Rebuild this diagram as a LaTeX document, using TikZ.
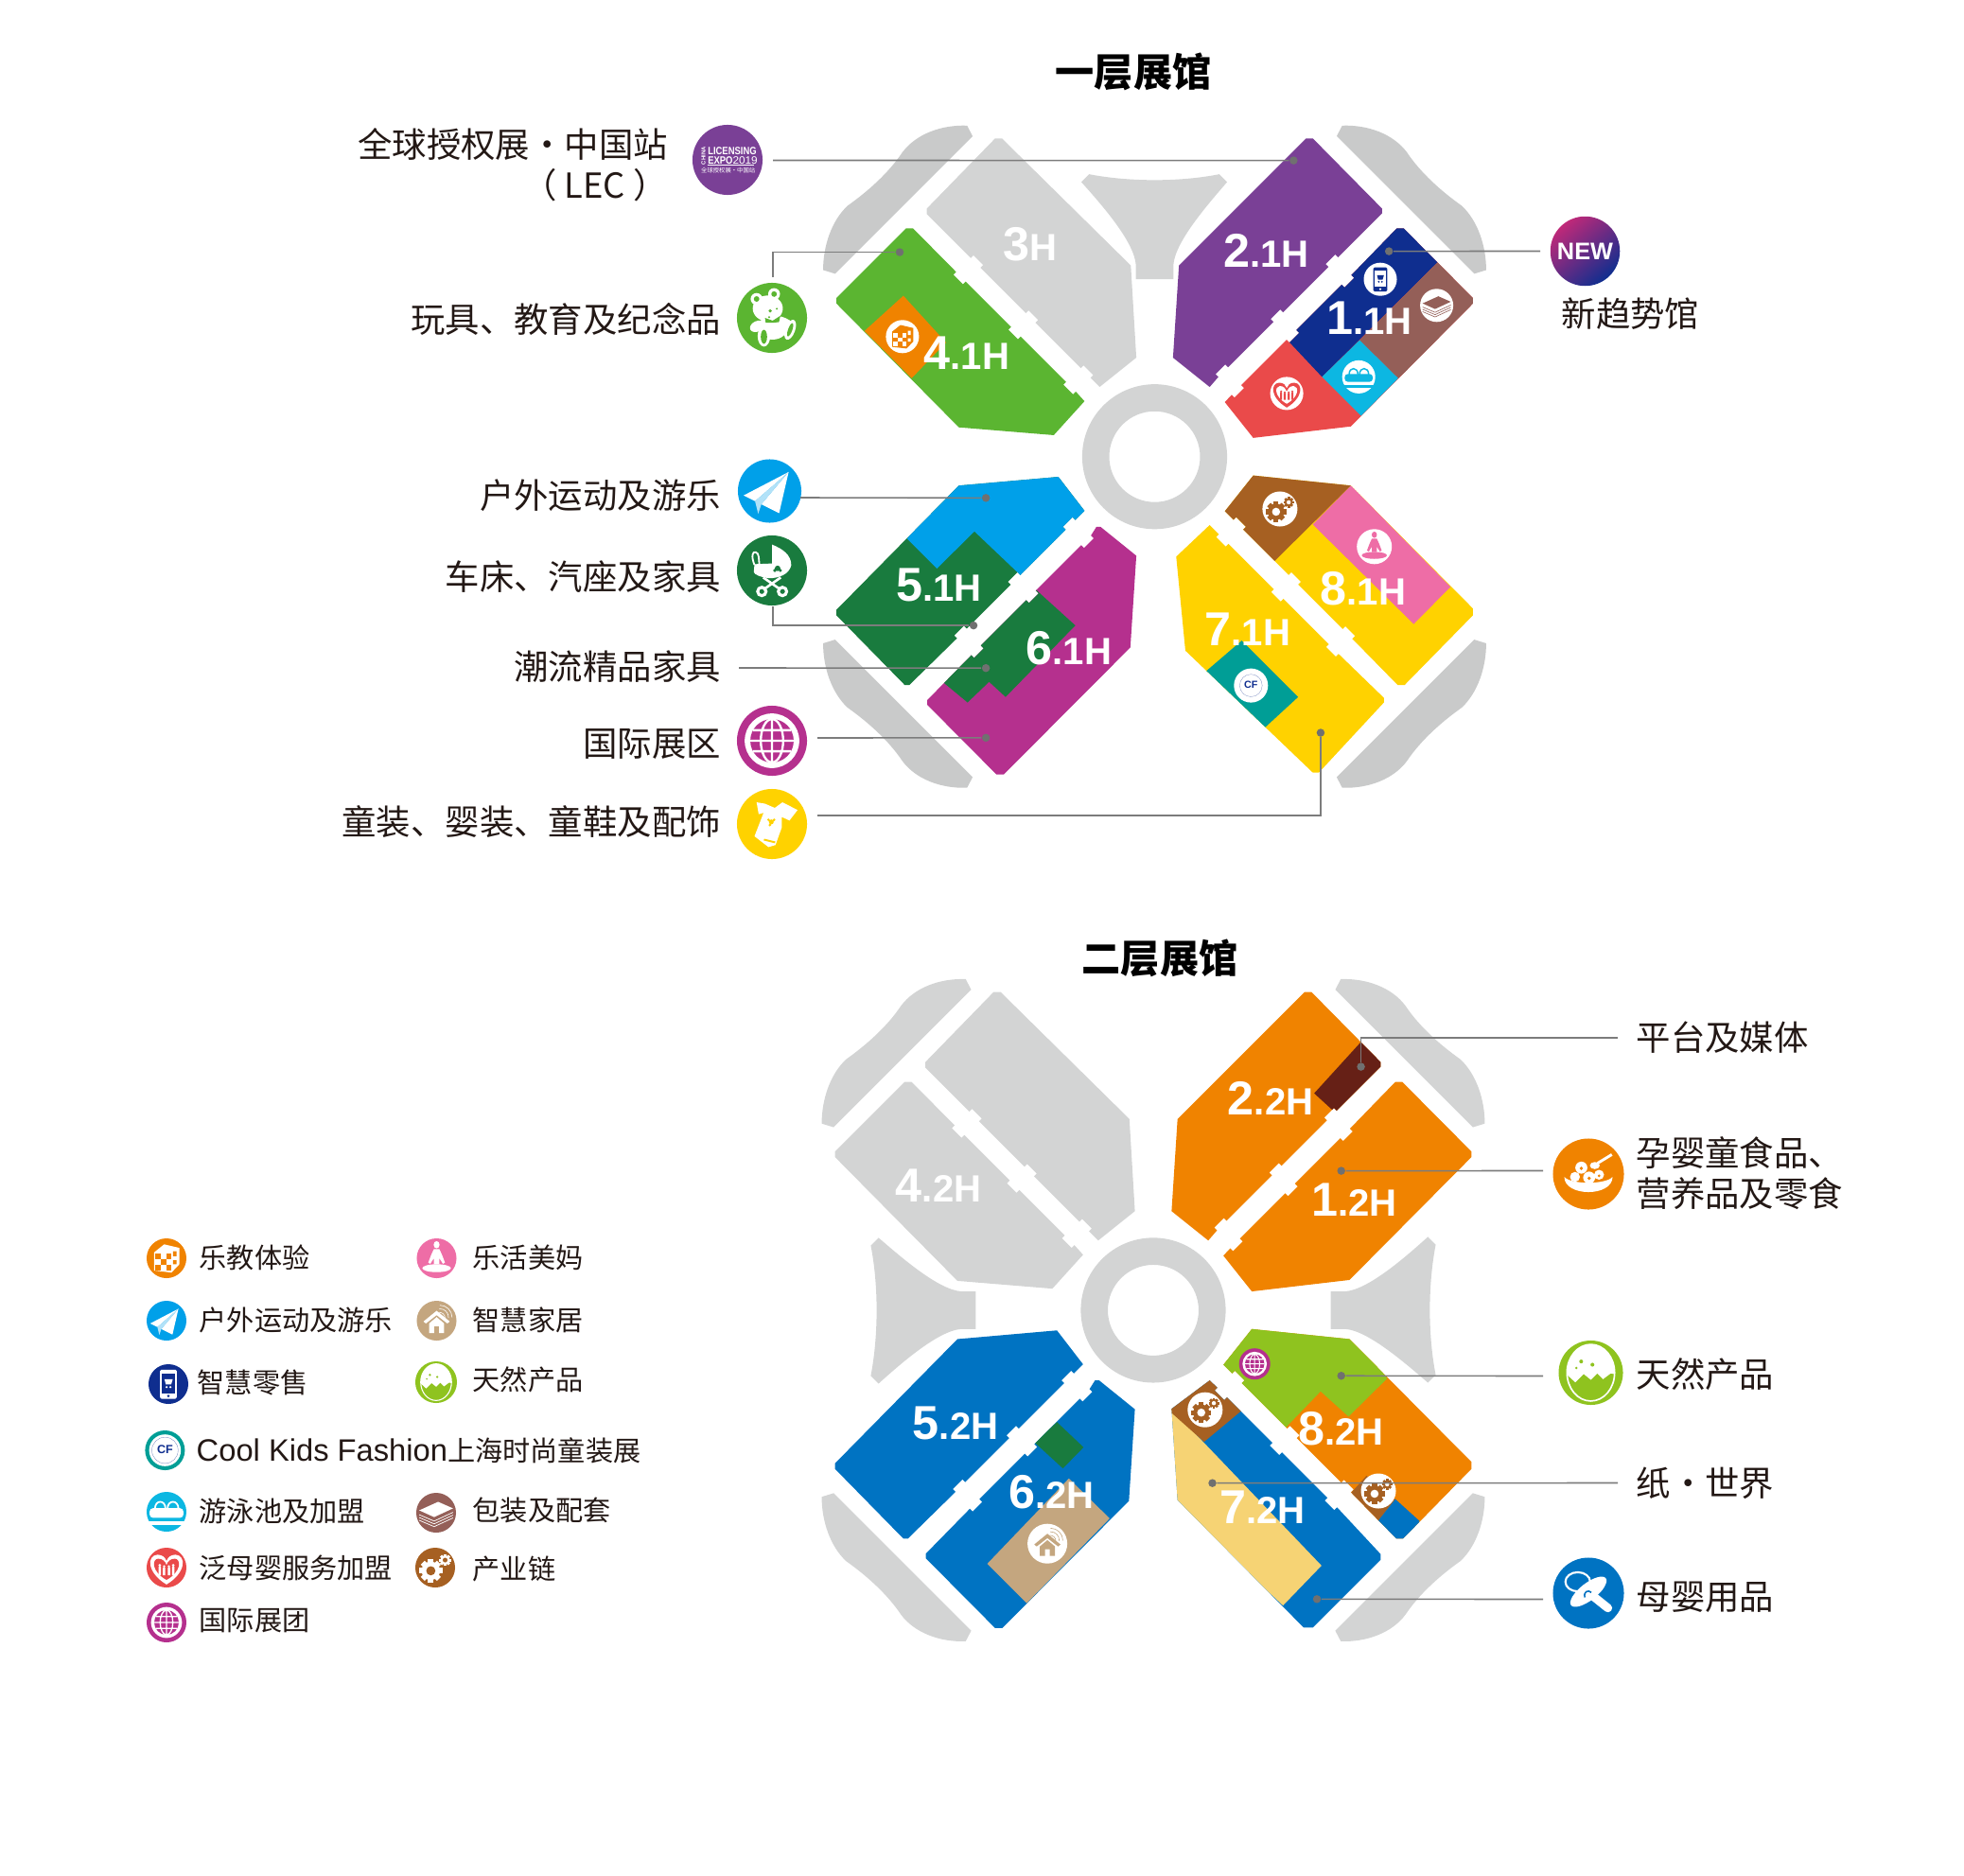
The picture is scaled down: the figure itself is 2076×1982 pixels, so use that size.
\documentclass[tikz,border=0pt]{standalone}
\usepackage{fontspec}
\usetikzlibrary{calc}
\setmainfont{Liberation Sans}
\newfontfamily\cjk{Noto Sans CJK SC}
\definecolor{ink}{HTML}{231815}
\definecolor{leadgray}{HTML}{7C7C7C}
\definecolor{cornergray}{HTML}{C9CACA}
\definecolor{hallgray}{HTML}{D3D4D4}
\definecolor{lecpurple}{HTML}{7A4096}
\definecolor{toygreen}{HTML}{5BB531}
\definecolor{playorange}{HTML}{F08300}
\definecolor{retailnavy}{HTML}{0F2E8F}
\definecolor{packmauve}{HTML}{945F58}
\definecolor{poolcyan}{HTML}{0CB7E2}
\definecolor{heartred}{HTML}{EA4A4A}
\definecolor{sportsky}{HTML}{00A0E9}
\definecolor{strollgreen}{HTML}{197B3E}
\definecolor{globepink}{HTML}{B5308E}
\definecolor{kidsyellow}{HTML}{FFD200}
\definecolor{cfteal}{HTML}{009E96}
\definecolor{chainrust}{HTML}{A66022}
\definecolor{yogapink}{HTML}{EE6DA6}
\definecolor{hometan}{HTML}{C4A67F}
\definecolor{natureolive}{HTML}{8FC31F}
\definecolor{babyblue}{HTML}{0073C2}
\definecolor{paperstraw}{HTML}{F6D374}
\definecolor{mediamaroon}{HTML}{662016}
% edge of a hall with the bite of a bridge in it
\newcommand\nick[4]{--(#1,#2)--++({-(#4)*6},{(#3)*6})--++({(#3)*21},{(#4)*21})--++({(#4)*6},{-(#3)*6})}
\newcommand\hallOne{(1313,271)--(1328,271)--(1479,423)--(1479,435)--(1213,703)--(1000,728)--(938,650)\nick{953}{634}{1}{-1}\nick{1073}{514}{1}{-1}\nick{1193}{394}{1}{-1}--cycle}
\newcommand\hallTwo{(1115,75)--(1130,75)--(1281,228)--(1281,238)\nick{1185}{334}{-1}{1}\nick{1065}{454}{-1}{1}\nick{945}{574}{-1}{1}--(905,617)--(825,553)--(838,352)--cycle}
\newcommand\hallThree{(437,75)--(452,75)--(733,352)--(745,553)--(665,617)\nick{645}{597}{-1}{-1}\nick{525}{477}{-1}{-1}\nick{405}{357}{-1}{-1}--(288,240)--(288,228)--cycle}
\newcommand\hallFour{(243,271)--(258,271)\nick{352}{366}{1}{1}\nick{472}{486}{1}{1}\nick{592}{606}{1}{1}--(632,648)--(565,722)--(358,705)--(91,435)--(91,423)--cycle}
\newcommand\hallFive{(358,832)--(575,813)--(632,887)\nick{612}{907}{-1}{1}\nick{492}{1027}{-1}{1}\nick{375}{1144}{-1}{1}--(250,1267)--(240,1267)--(91,1115)--(91,1103)--cycle}
\newcommand\hallSix{(658,922)--(667,922)--(745,985)--(732,1185)--(456,1462)--(440,1462)--(289,1310)--(289,1300)\nick{385}{1202}{1}{-1}\nick{505}{1082}{1}{-1}\nick{625}{962}{1}{-1}--cycle}
\newcommand\hallSeven{(832,987)--(905,918)\nick{925}{938}{1}{1}\nick{1045}{1058}{1}{1}\nick{1165}{1178}{1}{1}--(1285,1295)--(1285,1305)--(1143,1458)--(1130,1458)--(852,1192)--cycle}
\newcommand\hallSevenUp{(825,984)--(908,922)\nick{925}{938}{1}{1}\nick{1045}{1058}{1}{1}\nick{1165}{1178}{1}{1}--(1281,1301)--(1281,1313)--(1133,1461)--(1113,1461)--(838,1183)--cycle}
\newcommand\hallEight{(1000,810)--(1213,832)--(1479,1100)--(1479,1115)--(1330,1267)--(1315,1267)\nick{1216}{1166}{-1}{-1}\nick{1098}{1048}{-1}{-1}\nick{978}{928}{-1}{-1}--(938,888)--cycle}
\newcommand\cornershape{(-397,-699)--(-409,-722)..controls(-465,-724)and(-520,-704)..(-550,-664)..controls(-580,-619)and(-625,-579)..(-670,-547)..controls(-705,-514)and(-723,-459)..(-723,-407)--(-697,-399)--cycle}
\newcommand\funnelshape{(642,153)..controls(730,170)and(840,170)..(926,153)--(943,170)..controls(900,220)and(830,300)..(826,350)--(826,382)--(744,382)--(744,350)..controls(740,300)and(670,220)..(625,170)--cycle}
% corners and ring of a floor
\newcommand\floorbase[1]{%
\foreach \sx/\sy in {1/1,-1/1,1/-1,-1/-1}{\fill[#1,shift={(785,769)},xscale=\sx,yscale=\sy] \cornershape;}
\fill[hallgray,even odd rule] (785,769) circle (158) (785,769) circle (99);}
\newcommand\hallname[2]{{\fontsize{14.3}{14}\selectfont #1}{\fontsize{11.4}{11}\selectfont #2}}
% a disc with its symbol: name, x, y, radius, disc colour, symbol colour, symbol
\newcommand\badge[7]{%
\node[disc,minimum size=#4*0.02cm,fill=#5] (#1) at (#2,#3) {};
\begin{scope}[shift={(#2,#3)},scale=#4]
\colorlet{symbg}{#5}\colorlet{symfg}{#6}\pgfmathsetmacro\symw{#4*0.02}\pgfmathsetmacro\symfs{#4*0.17}#7
\end{scope}}
\newcommand\symcube{\fill[symfg] (-.62,-.3)--(-.12,-.7)--(.65,-.52)--(.65,.3)--(.25,.72)--(-.62,.62)--cycle;
\foreach \i/\j in {0/0,2/0,1/1,0/2,2/2}{\fill[symbg] ({-.58+\i*.28},{-.24+\j*.28}) rectangle ++(.28,.28);}
\fill[symbg] (.33,-.35) rectangle (.5,-.1) (.33,.1) rectangle (.5,.3);}
\newcommand\symplane{\fill[symfg] (.6,-.6)--(-.82,.14)--(-.46,.32)--cycle (.6,-.6)--(-.26,.42)--(.3,.7)--cycle;
\fill[symfg!70!symbg] (.6,-.6)--(-.46,.32)--(-.36,.72)--(-.26,.42)--cycle;}
\newcommand\symphone{\fill[symfg,rounded corners=.4pt] (-.42,-.72) rectangle (.42,.74);\fill[symbg] (-.33,-.52) rectangle (.33,.46);\fill[symbg] (0,.6) circle (.07);
\fill[symfg] (-.2,-.25)--(.22,-.25)--(.14,.02)--(-.13,.02)--cycle (-.09,.15) circle (.06) (.1,.15) circle (.06);}
\newcommand\symhome{\fill[symfg] (-.66,.04)--(0,-.5)--(.66,.04)--(.54,.14)--(0,-.28)--(-.54,.14)--cycle;
\fill[symfg] (-.38,.14)--(0,-.18)--(.38,.14)--(.38,.62)--(.12,.62)--(.12,.28)--(-.12,.28)--(-.12,.62)--(-.38,.62)--cycle;
\draw[symfg,line width=.4*\symw pt] (.12,-.42)..controls(.3,-.42)and(.42,-.3)..(.42,-.14) (.14,-.6)..controls(.42,-.6)and(.6,-.42)..(.6,-.14) (.16,-.78)..controls(.5,-.78)and(.78,-.5)..(.78,-.16);}
\newcommand\symegg{\draw[symfg,line width=.7*\symw pt] (0,0) ellipse (.74 and .88);
\begin{scope}\clip (0,0) ellipse (.74 and .88);
\fill[symfg] (-1,-1)--(1,-1)--(1,.1)--(.62,.02)--(.38,.2)--(.2,.02)--(0,.22)--(-.22,.04)--(-.48,.3)--(-.72,.08)--(-1,.1)--cycle;\end{scope}
\fill[symbg] (-.3,-.35) circle (.06) (.05,-.25) circle (.06) (-.45,-.15) circle (.04);}
\newcommand\symcf{\fill[white] (0,0) circle (.8);\draw[retailnavy!60,line width=.2*\symw pt] (0,0) circle (.66);
\node[inner sep=0,text=retailnavy,font=\bfseries\fontsize{\symfs}{\symfs}\selectfont] (cfmark) at (0,-.04) {CF};}
\newcommand\sympool{\draw[symfg,line width=1.2*\symw pt] (-.58,-.15)..controls(-.58,-.62)and(-.05,-.62)..(-.05,-.15) (.05,-.15)..controls(.05,-.62)and(.6,-.62)..(.6,-.15);
\fill[symfg,rounded corners=1pt] (-.85,-.18) rectangle (.85,.3);\fill[symfg] (-.95,.48) rectangle (.95,.66);}
\newcommand\symbooks{\fill[symfg] (-.85,-.12)--(.1,-.55)--(.85,-.22)--(-.1,.22)--cycle;
\foreach \d in {.14,.28,.42}{\draw[symfg,line width=.5*\symw pt] (-.85,{-.04+\d})--(-.1,{.28+\d})--(.85,{-.16+\d});}}
\newcommand\symheart{\fill[symfg] (0,.85)..controls(-1,.25)and(-1,-.62)..(-.45,-.65)..controls(-.2,-.65)and(-.05,-.5)..(0,-.32)..controls(.05,-.5)and(.2,-.65)..(.45,-.65)..controls(1,-.62)and(1,.25)..(0,.85)--cycle;
\fill[symbg] (0,.62)..controls(-.75,.2)and(-.75,-.42)..(-.42,-.45)..controls(-.2,-.45)and(-.05,-.3)..(0,-.12)..controls(.05,-.3)and(.2,-.45)..(.42,-.45)..controls(.75,-.42)and(.75,.2)..(0,.62)--cycle;
\foreach \x/\h in {-.34/.14,-.12/.08,.12/.08,.34/.14}{\fill[symfg] (\x,{-.12+.14-\h}) circle (.07) ({\x-.06},{.08-\h}) rectangle ({\x+.06},.38);}}
\newcommand\gearat[3]{\begin{scope}[shift={(#1,#2)},scale=#3]\foreach \a in {0,45,...,315}{\fill[symfg,rotate=\a] (-.24,-1) rectangle (.24,0);}
\fill[symfg] (0,0) circle (.8);\fill[symbg] (0,0) circle (.4);\end{scope}}
\newcommand\symgears{\gearat{-.22}{.16}{.58}\gearat{.5}{-.38}{.3}}
\newcommand\symglobe{\fill[symfg] (0,0) circle (.78);\fill[symbg] (0,0) circle (.62);
\draw[symfg,line width=.9*\symw pt] (-.62,0)--(.62,0) (0,-.62)--(0,.62) (-.54,-.3)--(.54,-.3) (-.54,.3)--(.54,.3) (0,0) ellipse (.32 and .62);}
\newcommand\symyoga{\fill[symfg] (0,-.68) ellipse (.15 and .18);\fill[symfg] (-.14,-.46)--(.14,-.46)--(.28,-.15)--(.42,.22)--(.32,.28)--(.14,.0)--(.14,.3)--(-.14,.3)--(-.14,.0)--(-.32,.28)--(-.42,.22)--(-.28,-.15)--cycle;
\fill[symfg] (0,.5) ellipse (.72 and .2);}
\newcommand\symteddy{\fill[symfg] (-.44,-.54) circle (.17) (.06,-.68) circle (.17) (-.12,-.27) ellipse (.43 and .37) (.02,.28) ellipse (.42 and .34);
\fill[symfg,rotate around={-25:(.35,.12)}] (.35,.12) ellipse (.3 and .12);\fill[symfg,rotate around={25:(-.42,.24)}] (-.42,.24) ellipse (.22 and .15);
\fill[symfg] (-.23,.52) ellipse (.18 and .3);\fill[symfg,rotate around={-20:(.52,.34)}] (.52,.34) ellipse (.14 and .3);
\fill[symbg] (-.44,-.54) circle (.08) (.06,-.68) circle (.08) (-.05,-.2) circle (.05) (-.08,-.02) circle (.03) (.14,-.26) circle (.03);
\fill[symbg] (-.2,.0)--(.02,.08)--(.24,-.06)--(.2,.12)--(.02,.14)--(-.18,.14)--cycle;
\fill[symbg] (-.23,.54) ellipse (.09 and .2);\fill[symbg,rotate around={-20:(.52,.34)}] (.52,.34) ellipse (.06 and .2);}
\newcommand\symstroll{\fill[symfg] (0,-.74)..controls(.3,-.62)and(.55,-.45)..(.55,-.15)..controls(.5,.1)and(.2,.23)..(-.1,.22)..controls(-.3,.2)and(-.5,.12)..(-.52,.05)--(-.5,-.18)--(0,-.2)--cycle;
\draw[symfg,line width=.7*\symw pt] (-.5,-.16)..controls(-.6,-.4)and(-.56,-.56)..(-.46,-.52)..controls(-.36,-.5)and(-.38,-.3)..(-.36,-.16);
\draw[symfg,line width=1*\symw pt] (-.25,.2)--(.25,.55) (.25,.2)--(-.25,.55);
\draw[symfg,line width=1.2*\symw pt] (-.29,.6) circle (.12) (.3,.6) circle (.12);
\fill[symbg] (.16,-.06) circle (.08) (.08,0) circle (.05) (.24,0) circle (.05);}
\newcommand\symonesie{\fill[symfg] (-.2,-.58)--(-.44,-.62)--(-.38,-.28)--(-.24,-.32)--(-.5,.35)--(-.1,.66)--(.1,.6)--(.28,.1)--(.28,-.2)--(.5,-.1)--(.73,-.4)--(.3,-.62)--(.08,-.46)--cycle;
\fill[symbg] (-.22,.42)--(.1,.5)--(.08,.55)--(-.24,.47)--cycle (-.02,-.06) circle (.07) (-.1,-.12) circle (.04) (.06,-.12) circle (.04) (-.06,.03) circle (.04);}
\newcommand\symbowl{\fill[symfg] (-.68,.08)..controls(-.68,.65)and(.68,.65)..(.68,.08)..controls(.5,.3)and(-.5,.3)..(-.68,.08)--cycle;
\fill[symfg] (-.2,-.18) circle (.17) (.02,.1) circle (.17) (-.38,.08) circle (.14) (.3,.02) circle (.14);\fill[symbg] (-.2,-.16) circle (.05) (.02,.12) circle (.05) (.3,.05) circle (.04);
\fill[symfg] (.18,-.24) ellipse (.14 and .1);\draw[symfg,line width=1.1*\symw pt] (.25,-.3)--(.66,-.55);}
\newcommand\sympacifier{\draw[symfg,line width=.8*\symw pt] (-.3,-.32) ellipse (.35 and .27);
\fill[symfg,rotate around={38:(0,-.04)}] (0,-.04) ellipse (.62 and .24);
\draw[symfg,line width=3.4*\symw pt,line cap=round] (.05,.02)--(.55,.42);\draw[symbg,line width=.6*\symw pt] (-.1,.12)..controls(-.15,-.05)and(0,-.1)..(.08,-.02);}
\newcommand\symlicense{\node[inner sep=0,text=white,font=\bfseries\fontsize{1.7}{1.7}\selectfont,rotate=90] (lecside) at (-.69,-.12) {CHINA};
\node[inner sep=0,text=white,font=\bfseries\fontsize{3.2}{3.2}\selectfont,anchor=west] (lecname) at (-.58,-.25) {\scalebox{.84}[1]{LICENSING}};
\node[inner sep=0,text=white,font=\bfseries\fontsize{3.2}{3.2}\selectfont,anchor=west] (lecyear) at (-.58,.02) {\scalebox{.84}[1]{EXPO}{\mdseries\scalebox{1.05}[1]{2019}}};
\draw[white,line width=.1pt] (-.58,.15)--(.76,.15);
\node[inner sep=0,text=white,font=\cjk\fontsize{1.8}{1.8}\selectfont,anchor=west] (leccn) at (-.77,.29) {全球授权展·中国站};}
\tikzset{x=0.01cm,y=-0.01cm,
disc/.style={circle,inner sep=0,outer sep=0},
tagtext/.style={inner sep=0,anchor=east,align=right,text=ink,font=\cjk\fontsize{10.35}{12.2}\selectfont},
righttext/.style={inner sep=0,anchor=west,align=left,text=ink,font=\cjk\fontsize{10.35}{12.2}\selectfont},
legendtext/.style={inner sep=0,anchor=west,text=ink,font=\cjk\fontsize{8.3}{10}\selectfont},
titletext/.style={inner sep=0,text=black,font=\cjk\bfseries\fontsize{11.7}{14}\selectfont},
halltext/.style={inner sep=0,text=white,font=\bfseries},
leader/.style={draw=leadgray,line width=0.45pt},
leaddot/.style={circle,fill=leadgray!90!black,inner sep=0,minimum size=8.5*0.01cm}}
\begin{document}
\begin{tikzpicture}
\useasboundingbox (0,0) rectangle (2076,1982);
\node[titletext] (titleOne) at (1198,76) {一层展馆};
\node[titletext] (titleTwo) at (1226,1013) {二层展馆};
% first floor
\begin{scope}[shift={(840,110)},scale=0.4847]
\floorbase{cornergray}
\fill[hallgray] \funnelshape;
\fill[hallgray] \hallThree;
\fill[lecpurple] \hallTwo;
\fill[heartred] \hallOne;
\begin{scope}\clip \hallOne;
\fill[retailnavy] (1150,595)--(1040,478)--(1300,230)--(1420,327)--(1402,345)--cycle;
\fill[packmauve] (1402,345)--(1490,420)--(1490,440)--(1316,598)--(1232,515)--cycle;
\fill[poolcyan] (1232,515)--(1316,598)--(1235,680)--(1150,595)--cycle;
\end{scope}
\fill[toygreen] \hallFour;
\begin{scope}\clip \hallFour;
\fill[playorange] (237,418)--(330,520)--(255,598)--(152,495)--cycle;
\end{scope}
\fill[strollgreen] \hallFive;
\begin{scope}\clip \hallFive;
\fill[sportsky] (245,948)--(310,1013)--(392,932)--(492,1027)--(650,870)--(575,800)--(350,820)--cycle;
\end{scope}
\fill[globepink] \hallSix;
\begin{scope}\clip \hallSix;
\fill[strollgreen] (300,1240)--(325,1262)--(377,1305)--(424,1260)--(460,1293)--(612,1137)--(527,1060)--(510,1045)--cycle;
\end{scope}
\fill[kidsyellow] \hallSeven;
\begin{scope}\clip \hallSeven;
\fill[cfteal] (975,1170)--(1098,1293)--(1023,1362)--(897,1237)--cycle;
\end{scope}
\fill[kidsyellow] \hallEight;
\begin{scope}\clip \hallEight;
\fill[chainrust] (990,800)--(1225,820)--(1045,998)--(920,880)--cycle;
\fill[yogapink] (1213,832)--(1430,1053)--(1350,1134)--(1130,917)--cycle;
\end{scope}
\node[halltext] (nameThree) at (513,306) {\hallname{3}{H}};
\node[halltext] (nameTwoOne) at (1028,319) {\hallname{2}{.1H}};
\node[halltext] (nameOneOne) at (1253,466) {\hallname{1}{.1H}};
\node[halltext] (nameFourOne) at (375,542) {\hallname{4}{.1H}};
\node[halltext] (nameFiveOne) at (315,1050) {\hallname{5}{.1H}};
\node[halltext] (nameSixOne) at (598,1187) {\hallname{6}{.1H}};
\node[halltext] (nameSevenOne) at (988,1146) {\hallname{7}{.1H}};
\node[halltext] (nameEightOne) at (1240,1057) {\hallname{8}{.1H}};
\node[leaddot] (dotLec) at (1088,123) {};
\node[leaddot] (dotToy) at (229,323) {};
\node[leaddot] (dotNew) at (1296,321) {};
\node[leaddot] (dotSport) at (417,859) {};
\node[leaddot] (dotStroll) at (390,1137) {};
\node[leaddot] (dotHome) at (417,1230) {};
\node[leaddot] (dotIntl) at (417,1382) {};
\node[leaddot] (dotKids) at (1147,1371) {};
\end{scope}
% second floor
\begin{scope}[shift={(838.5,1012.2)},scale=0.4847]
\floorbase{hallgray}
\fill[hallgray,rotate around={90:(785,769)}] \funnelshape;
\fill[hallgray,rotate around={-90:(785,769)}] \funnelshape;
\fill[hallgray] \hallThree;
\fill[hallgray] \hallFour;
\fill[playorange] \hallTwo;
\begin{scope}\clip \hallTwo;
\fill[mediamaroon] (1238,184)--(1300,226)--(1183,339)--(1136,296)--cycle;
\end{scope}
\fill[playorange] \hallOne;
\fill[babyblue] \hallFive;
\fill[babyblue] \hallSix;
\begin{scope}\clip \hallSix;
\fill[strollgreen] (575,1013)--(633,1068)--(588,1114)--(527,1058)--cycle;
\fill[hometan] (601,1136)--(690,1223)--(509,1408)--(423,1322)--cycle;
\end{scope}
\fill[babyblue] \hallSevenUp;
\begin{scope}\clip \hallSevenUp;
\fill[paperstraw] (825,984)--(1152,1326)--(1068,1413)--(820,1180)--(810,1000)--cycle;
\fill[chainrust] (908,900)--(980,986)--(896,1056)--(815,984)--cycle;
\end{scope}
\fill[playorange] \hallEight;
\begin{scope}\clip \hallEight;
\fill[natureolive] (990,800)--(1225,820)--(1295,918)--(1211,1001)--(1150,946)--(1073,1026)--(1065,1040)--(925,895)--cycle;
\fill[chainrust] (1205,1180)--(1250,1130)--(1313,1181)--(1276,1228)--cycle;
\fill[babyblue] (1313,1181)--(1366,1229)--(1335,1280)--(1300,1280)--(1270,1235)--cycle;
\end{scope}
\node[halltext] (nameTwoTwo) at (1041,306) {\hallname{2}{.2H}};
\node[halltext] (nameOneTwo) at (1223,528) {\hallname{1}{.2H}};
\node[halltext] (nameFourTwo) at (317,498) {\hallname{4}{.2H}};
\node[halltext] (nameFiveTwo) at (354,1015) {\hallname{5}{.2H}};
\node[halltext] (nameSixTwo) at (563,1166) {\hallname{6}{.2H}};
\node[halltext] (nameSevenTwo) at (1023,1199) {\hallname{7}{.2H}};
\node[halltext] (nameEightTwo) at (1195,1027) {\hallname{8}{.2H}};
\node[leaddot] (dotMedia) at (1238,238) {};
\node[leaddot] (dotFood) at (1195,465) {};
\node[leaddot] (dotNature) at (1195,912) {};
\node[leaddot] (dotPaper) at (914,1146) {};
\node[leaddot] (dotBaby) at (1142,1399) {};
\end{scope}
% badges in the halls
\badge{inCube}{953.9}{355.8}{17.5}{white}{playorange}{\symcube}
\badge{inPhone}{1459}{295.2}{17.5}{white}{retailnavy}{\symphone}
\badge{inBooks}{1518.6}{322.8}{17.5}{white}{packmauve}{\symbooks}
\badge{inPool}{1436.2}{398.4}{17.5}{white}{poolcyan}{\sympool}
\badge{inHeart}{1360.1}{415.9}{17.5}{white}{heartred}{\symheart}
\badge{inGears}{1352.9}{538}{18.5}{white}{chainrust}{\symgears}
\badge{inYoga}{1452.7}{577.8}{18.5}{white}{yogapink}{\symyoga}
\badge{inCf}{1322.3}{724.6}{18}{white}{cfteal}{\symcf}
\badge{inGlobe}{1326.2}{1441.7}{16.5}{globepink}{white}{\symglobe}
\badge{inGearsA}{1457}{1576}{18.5}{white}{chainrust}{\symgears}
\badge{inGearsB}{1273.8}{1490.2}{18.5}{white}{chainrust}{\symgears}
\badge{inHome}{1107.1}{1631.7}{21}{white}{hometan}{\symhome}
% first floor tags
\badge{tagLec}{769}{169}{37}{lecpurple}{white}{\symlicense}
\badge{tagToy}{816}{336}{37}{toygreen}{white}{\symteddy}
\badge{tagSport}{813.5}{519}{33.5}{sportsky}{white}{\symplane}
\badge{tagStroll}{816}{603}{37}{strollgreen}{white}{\symstroll}
\badge{tagIntl}{816}{783}{37}{globepink}{white}{\symglobe}
\badge{tagKids}{816}{871}{37}{kidsyellow}{white}{\symonesie}
\node[disc,minimum size=73.5*0.01cm,left color=globepink!85!red,right color=retailnavy,shading angle=40,text=white,font=\bfseries\fontsize{7.2}{8}\selectfont] (tagNew) at (1675.5,265.5) {NEW};
\node[tagtext] (textLec) at (706.5,174) {全球授权展·中国站\\（ LEC ）};
\node[tagtext] (textToy) at (762.5,337) {玩具、教育及纪念品};
\node[tagtext] (textSport) at (762.5,524) {户外运动及游乐};
\node[tagtext] (textStroll) at (762.5,610) {车床、汽座及家具};
\node[tagtext] (textHome) at (762.5,705) {潮流精品家具};
\node[tagtext] (textIntl) at (762.5,786) {国际展区};
\node[tagtext] (textKids) at (762.5,869) {童装、婴装、童鞋及配饰};
\node[righttext] (textNew) at (1650,332) {新趋势馆};
\coordinate (freeLec) at (817,169.5);
\coordinate (freeToy) at (817,293);
\coordinate (freeSport) at (846,526);
\coordinate (freeStroll) at (817,641);
\coordinate (freeHome) at (781,706);
\coordinate (freeIntl) at (864,780);
\coordinate (freeKids) at (864,862);
\coordinate (freeNew) at (1628,265.5);
\draw[leader] (freeLec)--(dotLec);
\draw[leader] (freeToy)|-(dotToy);
\draw[leader] (freeSport)--(dotSport);
\draw[leader] (freeStroll)|-(dotStroll);
\draw[leader] (freeHome)--(dotHome);
\draw[leader] (freeIntl)--(dotIntl);
\draw[leader] (freeKids)-|(dotKids);
\draw[leader] (freeNew)--(dotNew);
% second floor tags
\badge{tagFood}{1679}{1241}{37.5}{playorange}{white}{\symbowl}
\badge{tagNature}{1681.5}{1451}{34}{natureolive}{white}{\symegg}
\badge{tagBaby}{1679}{1684}{37.5}{babyblue}{white}{\sympacifier}
\node[righttext] (textMedia) at (1729,1097) {平台及媒体};
\node[righttext] (textFood) at (1729,1240.5) {孕婴童食品、\\营养品及零食};
\node[righttext] (textNature) at (1729,1453) {天然产品};
\node[righttext] (textPaper) at (1729,1568) {纸·世界};
\node[righttext] (textBaby) at (1729,1688) {母婴用品};
\coordinate (freeMedia) at (1710,1097);
\coordinate (freeFood) at (1631,1237.5);
\coordinate (freeNature) at (1631,1454.5);
\coordinate (freePaper) at (1710,1567.5);
\coordinate (freeBaby) at (1631,1690.5);
\draw[leader] (freeMedia)-|(dotMedia);
\draw[leader] (freeFood)--(dotFood);
\draw[leader] (freeNature)--(dotNature);
\draw[leader] (freePaper)--(dotPaper);
\draw[leader] (freeBaby)--(dotBaby);
% legend
\badge{keyCube}{176}{1330}{21}{playorange}{white}{\symcube}
\badge{keySport}{176}{1396}{21}{sportsky}{white}{\symplane}
\badge{keyPhone}{178}{1463}{21}{retailnavy}{white}{\symphone}
\badge{keyCf}{174.4}{1533}{21}{cfteal}{white}{\symcf}
\badge{keyPool}{176}{1598}{21}{poolcyan}{white}{\sympool}
\badge{keyHeart}{176}{1657}{21}{heartred}{white}{\symheart}
\badge{keyGlobe}{176}{1715}{21}{globepink}{white}{\symglobe}
\badge{keyYoga}{461.5}{1330}{21}{yogapink}{white}{\symyoga}
\badge{keyHome}{461.5}{1396}{21}{hometan}{white}{\symhome}
\badge{keyEgg}{461}{1461}{22}{natureolive}{white}{\symegg}
\badge{keyBooks}{461}{1599}{21}{packmauve}{white}{\symbooks}
\badge{keyGears}{460}{1657}{21}{chainrust}{white}{\symgears}
\node[legendtext] (keytextCube) at (210,1329) {乐教体验};
\node[legendtext] (keytextSport) at (210,1395) {户外运动及游乐};
\node[legendtext] (keytextPhone) at (208,1461) {智慧零售};
\node[legendtext] (keytextCf) at (207,1533) {{\fontspec{Liberation Sans}\fontsize{9.3}{10}\selectfont Cool Kids Fashion}上海时尚童装展};
\node[legendtext] (keytextPool) at (210,1597) {游泳池及加盟};
\node[legendtext] (keytextHeart) at (210,1657) {泛母婴服务加盟};
\node[legendtext] (keytextGlobe) at (210,1713) {国际展团};
\node[legendtext] (keytextYoga) at (499,1329) {乐活美妈};
\node[legendtext] (keytextHome) at (499,1395) {智慧家居};
\node[legendtext] (keytextEgg) at (499,1458) {天然产品};
\node[legendtext] (keytextBooks) at (499,1596) {包装及配套};
\node[legendtext] (keytextGears) at (499,1658) {产业链};
\end{tikzpicture}
\end{document}
